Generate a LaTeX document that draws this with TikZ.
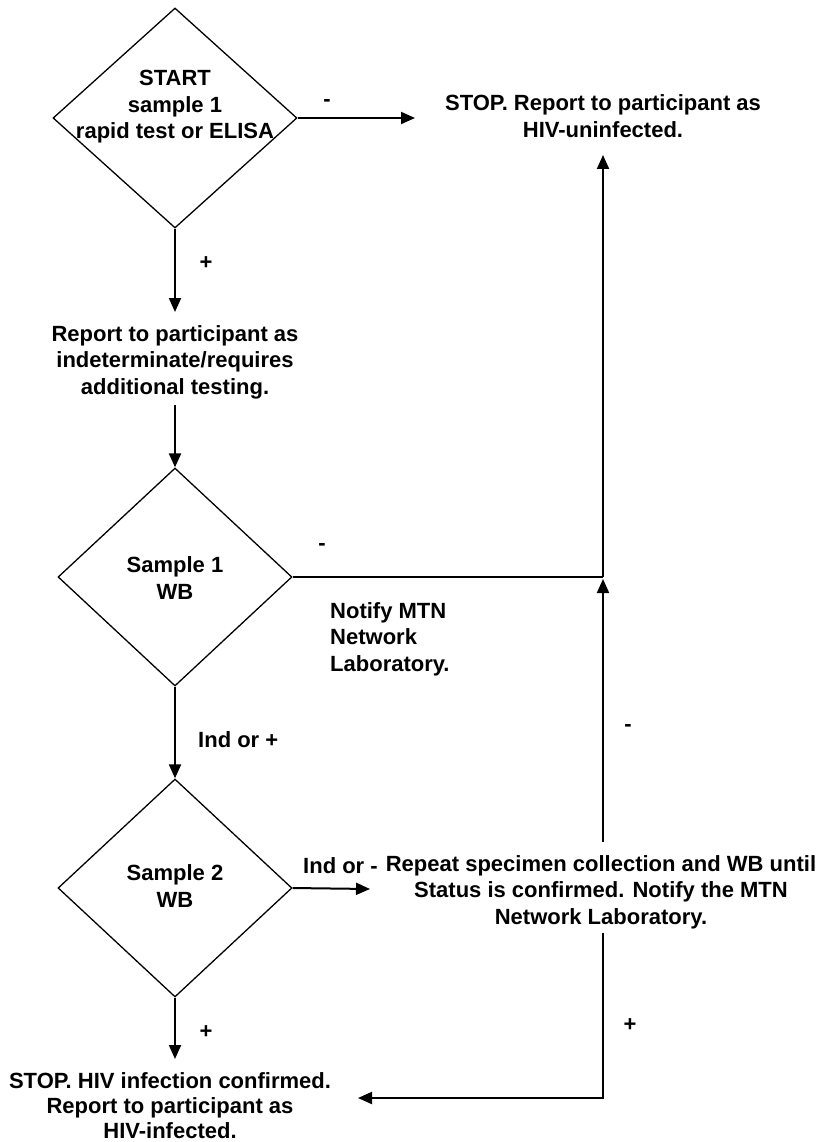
\documentclass[tikz,border=0pt]{standalone}
\usepackage{fontspec}
\setmainfont{Liberation Sans}
\usetikzlibrary{shapes.geometric,arrows.meta}
\begin{document}
\begin{tikzpicture}[x=1pt,y=-1pt,
  every node/.style={font=\bfseries\fontsize{22}{26.5}\selectfont, inner sep=0pt},
  decision/.style={draw, diamond, line width=1.3pt},
  txt/.style={align=center},
  lbl/.style={},
  conn/.style={line width=2pt},
  arr/.style={conn, -{Triangle[length=14pt,width=12pt]}}]
\useasboundingbox (0,0) rectangle (825,1142);
% decisions
\node[decision, minimum width=244pt, minimum height=220pt] (d1) at (175,118) {};
\node[txt] (d1t) at (175,107) {START\\sample 1\\rapid test or ELISA};
\node[decision, minimum width=234pt, minimum height=218pt] (d2) at (175,577) {};
\node[txt] (d2t) at (175,578) {Sample 1\\WB};
\node[decision, minimum width=234pt, minimum height=218pt] (d3) at (175,888) {};
\node[txt] (d3t) at (175,886) {Sample 2\\WB};
% texts
\node[txt] (stop1) at (603,116) {STOP. Report to participant as\\HIV-uninfected.};
\node[txt] (rep1) at (175,362) {Report to participant as\\indeterminate/requires\\additional testing.};
\node[align=left, anchor=west] (notify) at (330,639) {Notify MTN\\Network\\Laboratory.};
\node[txt] (repeat) at (601,892) {Repeat specimen collection and WB until\\Status is confirmed. Notify the MTN\\Network Laboratory.};
\node[txt, font=\bfseries\fontsize{22}{25}\selectfont] (stop2) at (170,1106) {STOP. HIV infection confirmed.\\Report to participant as\\HIV-infected.};
% junctions
\coordinate (j1) at (603,577);
\coordinate (j2) at (603,1098);
\coordinate (rt) at (603,842);
\coordinate (rb) at (603,933);
% connectors
\draw[arr] (d1.east) -- (415,118);
\draw[arr] (d1.south) -- (175,312);
\draw[arr] (175,405) -- (d2.north);
\draw[conn] (d2.east) -- (j1);
\draw[arr] (j1) -- (603,155);
\draw[arr] (rt) -- (603,579);
\draw[arr] (d2.south) -- (d3.north);
\draw[arr] (d3.east) -- (370,889);
\draw[arr] (d3.south) -- (175,1059);
\draw[arr] (rb) -- (j2) -- (358,1098);
% labels
\node[lbl] (l1) at (327,103) {-};
\node[lbl] (l2) at (206,263) {+};
\node[lbl] (l3) at (322,547) {-};
\node[lbl, anchor=west] (l4) at (198,740) {Ind or +};
\node[lbl] (l5) at (628,728) {-};
\node[lbl, anchor=west] (l6) at (303,866) {Ind or -};
\node[lbl] (l7) at (630,1025) {+};
\node[lbl] (l8) at (206,1032) {+};
\end{tikzpicture}
\end{document}
